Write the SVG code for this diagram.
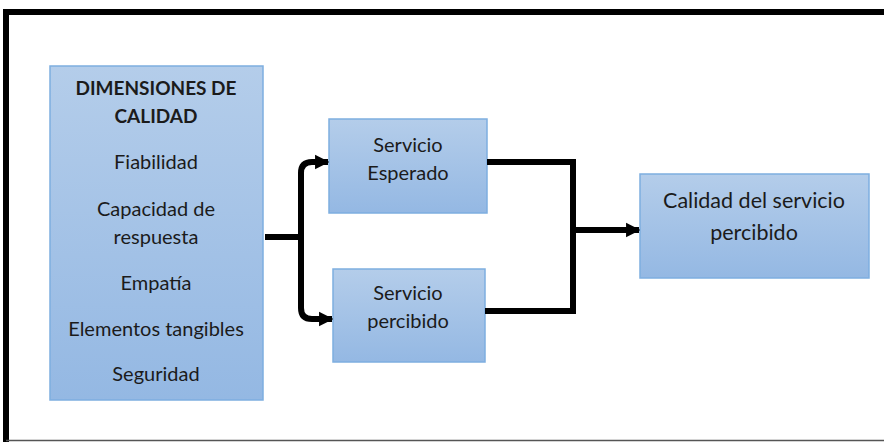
<svg xmlns="http://www.w3.org/2000/svg" width="884" height="442" viewBox="0 0 884 442">
<defs>
<linearGradient id="g" x1="0" y1="0" x2="0" y2="1">
<stop offset="0" stop-color="#b4cdea"/>
<stop offset="1" stop-color="#94b8e3"/>
</linearGradient>
<marker id="ah" viewBox="0 0 10 10" refX="9" refY="5" markerWidth="2.4" markerHeight="2.6" orient="auto" markerUnits="strokeWidth">
<path d="M0,0 L10,5 L0,10 z" fill="#000"/>
</marker>
</defs>
<style>
.box{fill:url(#g);stroke:#7eaee0;stroke-width:1.5}
.t{font-family:Lato,"Open Sans",sans-serif;font-size:20px;fill:#1b1b1b;text-anchor:middle}
.b{font-weight:bold;font-size:19px}
.l{font-size:21.5px}
.c{fill:none;stroke:#000;stroke-width:6}
</style>
<rect x="0" y="0" width="884" height="442" fill="#fff"/>
<g id="frame">
<path d="M884,12 L6,12 L6,442" fill="none" stroke="#000" stroke-width="6"/>
<line x1="6" y1="440.5" x2="884" y2="440.5" stroke="#555" stroke-width="1.5"/>
</g>
<g id="dimensiones">
<rect class="box" x="50" y="66" width="213" height="334"/>
<text class="t b" x="156" y="95">DIMENSIONES DE</text>
<text class="t b" x="156" y="123">CALIDAD</text>
<text class="t" x="156" y="169">Fiabilidad</text>
<text class="t" x="156" y="216">Capacidad de</text>
<text class="t" x="156" y="244">respuesta</text>
<text class="t" x="156" y="290">Empatía</text>
<text class="t" x="156" y="336">Elementos tangibles</text>
<text class="t" x="156" y="381">Seguridad</text>
</g>
<g id="esperado">
<rect class="box" x="329" y="119" width="158" height="94"/>
<text class="t" x="408" y="152">Servicio</text>
<text class="t" x="408" y="180">Esperado</text>
</g>
<g id="percibido">
<rect class="box" x="333" y="269" width="152" height="93"/>
<text class="t" x="408" y="300">Servicio</text>
<text class="t" x="408" y="328">percibido</text>
</g>
<g id="calidad">
<rect class="box" x="640" y="174" width="229" height="104"/>
<text class="t l" x="754" y="208">Calidad del servicio</text>
<text class="t l" x="754" y="240">percibido</text>
</g>
<g id="connectors">
<line class="c" x1="265" y1="237" x2="301" y2="237"/>
<path class="c" d="M301,230 L301,308 Q301,319 312,319 L332,319" marker-end="url(#ah)"/>
<path class="c" d="M301,240 L301,173 Q301,162 312,162 L328,162" marker-end="url(#ah)"/>
<path class="c" d="M487,162 L573,162 L573,311 L485,311"/>
<line class="c" x1="573" y1="230" x2="639" y2="230" marker-end="url(#ah)"/>
</g>
</svg>
